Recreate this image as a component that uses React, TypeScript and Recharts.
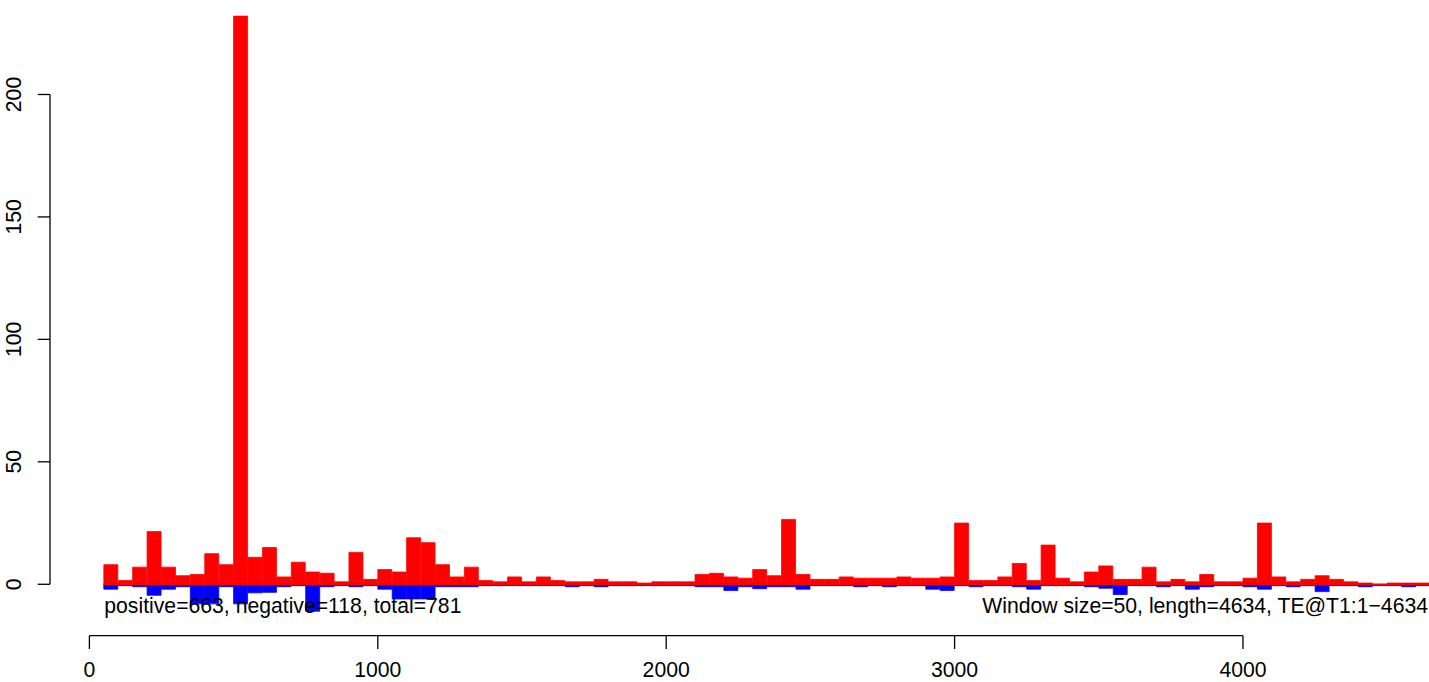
import React from 'react';
import { BarChart, Bar, XAxis, YAxis, ReferenceLine } from 'recharts';

// window start positions (window size 50)
const windowStarts = [
  50, 100, 150, 200, 250, 300, 350, 400, 450, 500,
  550, 600, 650, 700, 750, 800, 850, 900, 950, 1000,
  1050, 1100, 1150, 1200, 1250, 1300, 1350, 1400, 1450, 1500,
  1550, 1600, 1650, 1700, 1750, 1800, 1850, 1900, 1950, 2000,
  2050, 2100, 2150, 2200, 2250, 2300, 2350, 2400, 2450, 2500,
  2550, 2600, 2650, 2700, 2750, 2800, 2850, 2900, 2950, 3000,
  3050, 3100, 3150, 3200, 3250, 3300, 3350, 3400, 3450, 3500,
  3550, 3600, 3650, 3700, 3750, 3800, 3850, 3900, 3950, 4000,
  4050, 4100, 4150, 4200, 4250, 4300, 4350, 4400, 4450, 4500,
  4550, 4600,
];

const positiveCounts = [
  8, 1.5, 7, 21.5, 7, 3.5, 4, 12.5, 8, 232,
  11, 15, 3, 9, 5, 4.5, 1, 13, 2, 6,
  5, 19, 17, 8, 3, 7, 1.5, 1, 3, 1,
  3, 1.5, 1, 1, 2, 1, 1, 0.5, 1, 1,
  1, 4, 4.5, 3, 2.5, 6, 3.5, 26.5, 4, 2,
  2, 3, 2.5, 2.5, 2.5, 3, 2.5, 2.5, 3, 25,
  1.5, 1.5, 3, 8.5, 1.5, 16, 2.5, 1, 5, 7.5,
  2, 2, 7, 1, 2, 1, 4, 1, 1, 2.5,
  25, 3, 1, 2, 3.5, 2, 1, 0.5, 0, 0.5,
  0.5, 0.5,
];

const negativeCounts = [
  2, 0, 1, 4.5, 2, 1, 8, 8, 1, 8,
  3.5, 3.3, 1, 0.5, 11, 1, 0, 1, 0, 2,
  6, 6, 6, 1, 1, 1, 0, 0, 0, 0,
  0, 0, 1, 0, 1, 0, 0, 0, 0, 0,
  0, 1, 1, 2.5, 1, 1.8, 1, 1, 2, 0,
  0, 0, 1, 0, 1, 0, 0, 2, 2.5, 0,
  1, 0, 0, 1, 2, 0, 0, 0, 1, 1.6,
  4.2, 0, 0, 1, 0, 2, 1, 0, 0, 1,
  2, 0, 1, 0, 3, 0, 0, 1, 0, 0,
  1, 0,
];

const xTicks = [0, 1000, 2000, 3000, 4000];
const yTicks = [0, 50, 100, 150, 200];

const WINDOW = 50;
const X_MAX = 4645;
const Y_MIN = -21;
const Y_MAX = 234.5;
const Y_AXIS_X = -136.6; // data x where the offset y-axis line sits

const data = windowStarts.map((s, i) => ({
  mid: s + WINDOW / 2,
  pos: positiveCounts[i],
  neg: -negativeCounts[i],
}));

const FONT = '"Liberation Sans", Arial, sans-serif';
const FS = 21.2;

const XTick = (props: any) => {
  const { x, payload } = props;
  return (
    <g>
      <line x1={x} x2={x} y1={635.7} y2={649} stroke="#000" strokeWidth={1.3} />
      <text x={x} y={677} textAnchor="middle" fontSize={FS} fontFamily={FONT} fill="#000">
        {payload.value}
      </text>
    </g>
  );
};

const YTick = (props: any) => {
  const { y, payload } = props;
  return (
    <g>
      <line x1={37.7} x2={50} y1={y} y2={y} stroke="#000" strokeWidth={1.3} />
      <text
        x={21.5}
        y={y}
        transform={`rotate(-90 21.5 ${y})`}
        textAnchor="middle"
        fontSize={FS}
        fontFamily={FONT}
        fill="#000"
      >
        {payload.value}
      </text>
    </g>
  );
};

export default function App() {
  return (
    <div style={{ position: 'absolute', left: 0, top: 0, width: 1429, height: 682, background: '#fff' }}>
      <BarChart
        width={1429}
        height={682}
        data={data}
        stackOffset="sign"
        barCategoryGap={0}
        barGap={0}
        margin={{ top: 10, right: 0, bottom: 0, left: 0 }}
      >
        <XAxis
          type="number"
          dataKey="mid"
          domain={[0, X_MAX]}
          allowDataOverflow
          ticks={xTicks}
          height={46.3}
          axisLine={false}
          tickLine={false}
          tick={<XTick />}
        />
        <YAxis
          type="number"
          domain={[Y_MIN, Y_MAX]}
          allowDataOverflow
          ticks={yTicks}
          width={89.4}
          axisLine={false}
          tickLine={false}
          tick={<YTick />}
        />
        <Bar dataKey="pos" stackId="s" fill="#ff0000" stroke="#ff0000" strokeWidth={0.8} isAnimationActive={false} />
        <Bar dataKey="neg" stackId="s" fill="#0000ff" stroke="#0000ff" strokeWidth={0.8} isAnimationActive={false} />
        <ReferenceLine
          segment={[{ x: windowStarts[0], y: -0.55 }, { x: X_MAX, y: -0.55 }]}
          stroke="#0000ff"
          strokeWidth={1}
          ifOverflow="visible"
        />
        <ReferenceLine
          segment={[{ x: windowStarts[0], y: 0 }, { x: X_MAX, y: 0 }]}
          stroke="#ff0000"
          strokeWidth={1.3}
          ifOverflow="visible"
        />
        <ReferenceLine
          segment={[{ x: xTicks[0], y: Y_MIN }, { x: xTicks[xTicks.length - 1], y: Y_MIN }]}
          stroke="#000"
          strokeWidth={1.3}
          ifOverflow="visible"
        />
        <ReferenceLine
          segment={[{ x: Y_AXIS_X, y: yTicks[0] }, { x: Y_AXIS_X, y: yTicks[yTicks.length - 1] }]}
          stroke="#000"
          strokeWidth={1.3}
          ifOverflow="visible"
        />
      </BarChart>
      <svg
        width={1429}
        height={682}
        style={{ position: 'absolute', left: 0, top: 0, pointerEvents: 'none' }}
      >
        <text x={104.3} y={612.5} fontSize={FS} fontFamily={FONT} fill="#000">
          positive=663, negative=118, total=781
        </text>
        <text x={1428} y={612.5} fontSize={FS} fontFamily={FONT} fill="#000" textAnchor="end">
          Window size=50, length=4634, TE@T1:1−4634
        </text>
      </svg>
    </div>
  );
}
